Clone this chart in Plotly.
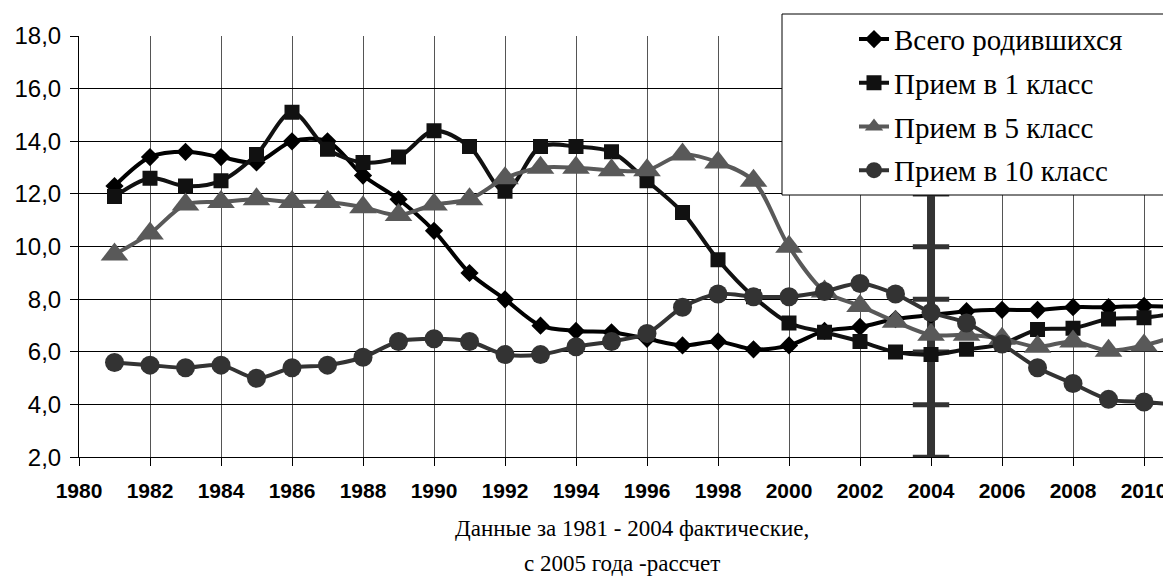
"""Рождаемость и приём в 1, 5 и 10 классы, 1981-2011."""

import plotly.graph_objects as go

years = list(range(1981, 2012))

births = [12.3, 13.4, 13.6, 13.4, 13.2, 14.0, 14.0, 12.7, 11.8, 10.6,
          9.0, 8.0, 7.0, 6.8, 6.75, 6.5, 6.25, 6.4, 6.1, 6.25,
          6.8, 6.95, 7.25, 7.4, 7.55, 7.6, 7.6, 7.7, 7.7, 7.75, 7.7]
grade1 = [11.9, 12.6, 12.3, 12.5, 13.5, 15.1, 13.7, 13.2, 13.4, 14.4,
          13.8, 12.1, 13.8, 13.8, 13.6, 12.5, 11.3, 9.5, 8.1, 7.1,
          6.75, 6.4, 6.0, 5.9, 6.1, 6.3, 6.85, 6.9, 7.25, 7.3, 7.5]
grade5 = [9.7, 10.5, 11.6, 11.7, 11.8, 11.7, 11.7, 11.5, 11.2, 11.6,
          11.8, 12.6, 13.0, 13.0, 12.9, 12.9, 13.5, 13.2, 12.5, 10.0,
          8.3, 7.75, 7.15, 6.65, 6.65, 6.5, 6.2, 6.4, 6.05, 6.25, 6.65]
grade10 = [5.6, 5.5, 5.4, 5.5, 5.0, 5.4, 5.5, 5.8, 6.4, 6.5,
           6.4, 5.9, 5.9, 6.2, 6.4, 6.7, 7.7, 8.2, 8.1, 8.1,
           8.3, 8.6, 8.2, 7.5, 7.1, 6.3, 5.4, 4.8, 4.2, 4.1, 4.0]

names = ["Всего родившихся", "Прием в 1 класс", "Прием в 5 класс", "Прием в 10 класс"]

# граница факт / расчёт
split_year = 2004
split_ticks = [2, 4, 6, 8, 10, 12, 14, 16, 18]

note_1 = "Данные за 1981 - 2004 фактические,"
note_2 = "с 2005 года -рассчет"

SERIF = "Liberation Serif, Times New Roman, DejaVu Serif, serif"
SANS = "Liberation Sans, Arial, sans-serif"

# страница сдвигает график на 8px (отступ body)
W, H, OFF = 1163, 571, 8


def px_x(p):
    return (p - OFF) / W


def px_y(p):
    return 1 - (p - OFF) / H


series = [
    (births, "#000000", "diamond", 14),
    (grade1, "#111111", "square", 15),
    (grade5, "#595959", "triangle-up", 24),
    (grade10, "#333333", "circle", 19),
]

fig = go.Figure()

fig.add_trace(
    go.Scatter(
        x=[split_year] * len(split_ticks),
        y=split_ticks,
        mode="lines+markers",
        line=dict(color="#333333", width=8),
        marker=dict(symbol="line-ew", size=26, line=dict(color="#333333", width=5)),
        showlegend=False,
        hoverinfo="skip",
    )
)

for i, (vals, color, symbol, size) in enumerate(series):
    fig.add_trace(
        go.Scatter(
            x=years,
            y=vals,
            name=names[i],
            legendgroup=f"g{i}",
            mode="lines+markers",
            line=dict(color=color, width=4, shape="spline", smoothing=0.9),
            marker=dict(symbol=symbol, size=size, color=color),
        )
    )

# белая подложка под легенду
fig.add_shape(
    type="rect", xref="paper", yref="paper",
    x0=px_x(782), x1=1.05, y0=px_y(195), y1=px_y(14),
    fillcolor="white", line=dict(color="black", width=1), layer="above",
)

fig.add_annotation(
    text=note_1, xref="paper", yref="paper", x=px_x(632), y=px_y(528),
    xanchor="center", yanchor="middle", showarrow=False,
    font=dict(family=SERIF, size=23, color="black"),
)
fig.add_annotation(
    text=note_2, xref="paper", yref="paper", x=px_x(622), y=px_y(563),
    xanchor="center", yanchor="middle", showarrow=False,
    font=dict(family=SERIF, size=23, color="black"),
)

fig.update_xaxes(
    domain=[px_x(79), 1],
    range=[1980, 2010.76],
    tick0=1980, dtick=2, tickformat="d",
    showgrid=True, gridcolor="#555555", gridwidth=1,
    showline=True, linecolor="black", linewidth=1,
    ticks="outside", ticklen=8, tickcolor="black",
    ticklabelstandoff=6,
    tickfont=dict(family=SANS, size=21, color="black", weight="bold"),
    zeroline=False, automargin=False,
)
fig.update_yaxes(
    domain=[px_y(457.3), px_y(36)],
    range=[2, 18],
    tick0=2, dtick=2, tickformat=".1f",
    showgrid=True, gridcolor="black", gridwidth=1,
    showline=True, linecolor="black", linewidth=1,
    ticks="outside", ticklen=8, tickcolor="black",
    ticklabelstandoff=4,
    tickfont=dict(family=SANS, size=24, color="black"),
    zeroline=False, automargin=False,
)

fig.update_layout(
    width=W, height=H,
    margin=dict(l=0, r=0, t=0, b=0),
    paper_bgcolor="white", plot_bgcolor="white",
    separators=", ",
    legend=dict(
        x=px_x(854), y=px_y(13.7), xanchor="left", yanchor="top",
        bgcolor="rgba(0,0,0,0)", borderwidth=0,
        tracegroupgap=3,
        font=dict(family=SERIF, size=29, color="black"),
    ),
)

fig.write_html("out.html")
